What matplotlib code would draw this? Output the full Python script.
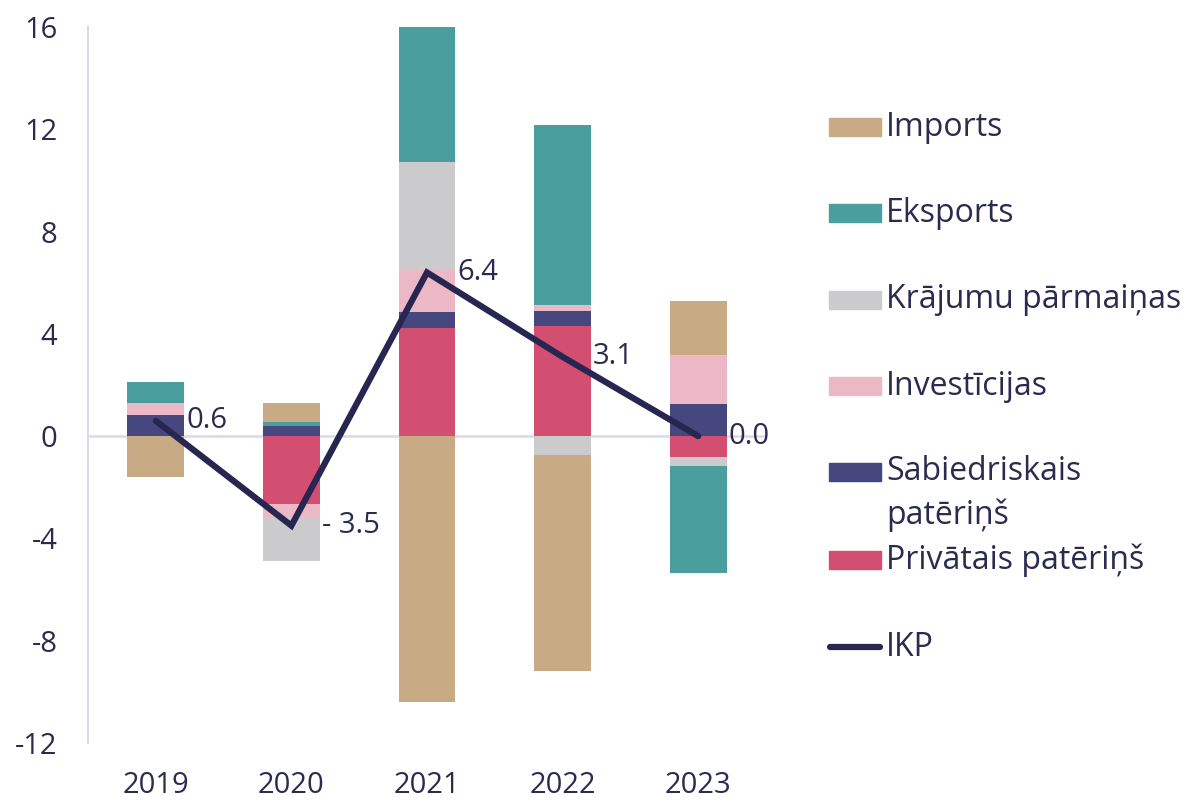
import numpy as np
import matplotlib
matplotlib.use('Agg')
import matplotlib.pyplot as plt
from matplotlib.patches import Rectangle
from matplotlib.lines import Line2D

years = ['2019', '2020', '2021', '2022', '2023']

# contributions, stacked bottom -> top
privatais = [0.0, -2.66, 4.21, 4.32, -0.80]
sabiedriskais = [0.82, 0.39, 0.63, 0.56, 1.25]
investicijas = [0.48, -0.49, 1.68, 0.24, 1.91]
krajumu = [0.0, -1.72, 4.22, -0.72, -0.36]
eksports = [0.82, 0.17, 6.00, 7.03, -4.20]
imports = [-1.61, 0.74, -10.39, -8.46, 2.13]
ikp = [0.6, -3.5, 6.4, 3.1, 0.0]
ikp_labels = ['0.6', '- 3.5', '6.4', '3.1', '0.0']

yticks = [16, 12, 8, 4, 0, -4, -8, -12]

series = [
    ('Privātais patēriņš', privatais, '#D24F72'),
    ('Sabiedriskais\npatēriņš', sabiedriskais, '#46477F'),
    ('Investīcijas', investicijas, '#ECB8C6'),
    ('Krājumu pārmaiņas', krajumu, '#CBCBCD'),
    ('Eksports', eksports, '#4A9E9E'),
    ('Imports', imports, '#C8AA85'),
]
line_col = '#262650'
txt_col = '#2B2B4F'
grid_col = '#D9D9EC'

plt.rcParams['font.family'] = ['Open Sans', 'DejaVu Sans']
W, H = 1186, 801
fig = plt.figure(figsize=(W / 100, H / 100), dpi=100)
ax = fig.add_axes([88 / W, 1 - 743 / H, (766 - 88) / W, (743 - 27) / H])

x = np.arange(len(years))
pos = np.zeros(len(years))
neg = np.zeros(len(years))
for name, vals, col in series:
    v = np.array(vals)
    base = np.where(v >= 0, pos, neg)
    ax.bar(x, v, 0.42, bottom=base, color=col, zorder=2)
    pos += np.where(v >= 0, v, 0)
    neg += np.where(v < 0, v, 0)

ax.axhline(0, color=grid_col, lw=1.8, zorder=1)
ax.plot(x, ikp, color=line_col, lw=4.5, solid_capstyle='round',
        solid_joinstyle='miter', zorder=3)
for xi, yi, lab in zip(x, ikp, ikp_labels):
    ax.annotate(lab, (xi, yi), xytext=(22, 0), textcoords='offset points',
                ha='left', va='center', fontsize=21, color=txt_col, zorder=4)

ax.set_xlim(-0.5, 4.5)
ax.set_ylim(-12, 16)
ax.set_yticks(yticks)
ax.set_yticklabels([str(t) for t in yticks])
ax.set_xticks(x)
ax.set_xticklabels(years)
ax.tick_params(axis='y', length=0, pad=22, labelsize=21, labelcolor=txt_col)
ax.tick_params(axis='x', length=0, pad=20, labelsize=21, labelcolor=txt_col)
for s in ['top', 'right', 'bottom']:
    ax.spines[s].set_visible(False)
ax.spines['left'].set_color(grid_col)
ax.spines['left'].set_linewidth(1.5)

# legend, drawn by hand
leg_items = [
    ('Imports', '#C8AA85', 127),
    ('Eksports', '#4A9E9E', 213),
    ('Krājumu pārmaiņas', '#CBCBCD', 300),
    ('Investīcijas', '#ECB8C6', 386),
    ('Sabiedriskais', '#46477F', 472),
    ('Privātais patēriņš', '#D24F72', 560),
]
for lab, col, yy in leg_items:
    fig.add_artist(Rectangle((829 / W, 1 - (yy + 9) / H), 52 / W, 18 / H,
                             transform=fig.transFigure, color=col))
    fig.text(886 / W, 1 - yy / H, lab, fontsize=23, color=txt_col,
             va='center', ha='left')
fig.text(886 / W, 1 - 515 / H, 'patēriņš', fontsize=23, color=txt_col,
         va='center', ha='left')
fig.add_artist(Line2D([830 / W, 880 / W], [1 - 647 / H, 1 - 647 / H],
                      transform=fig.transFigure, color=line_col, lw=4.5,
                      solid_capstyle='round'))
fig.text(886 / W, 1 - 647 / H, 'IKP', fontsize=23, color=txt_col,
         va='center', ha='left')

fig.savefig('out.png', dpi=100)
